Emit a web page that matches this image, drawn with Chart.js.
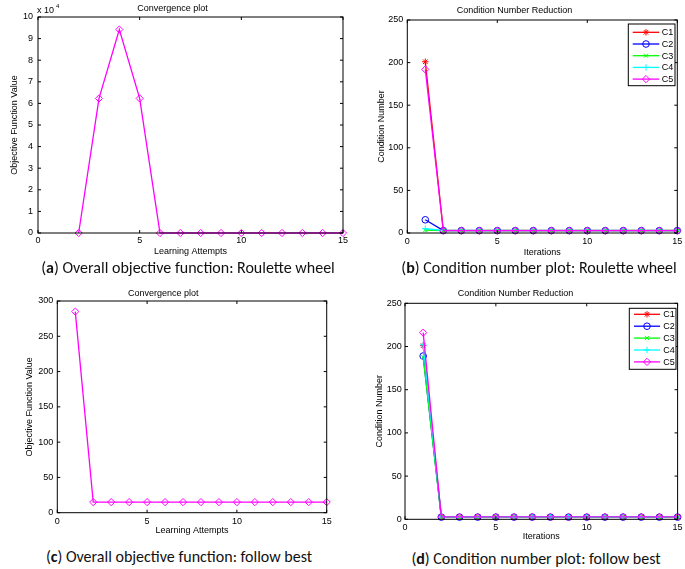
<!DOCTYPE html>
<html lang="en">
<head>
<meta charset="UTF-8">
<title>Convergence and condition number plots</title>
<script src="https://cdn.jsdelivr.net/npm/chart.js"></script>
<style>
  body { margin: 0; background: #fff; width: 685px; height: 569px; position: relative; overflow: hidden; }
  .panel { position: absolute; }
  .caption { position: absolute; transform: translateX(-50%); white-space: nowrap; line-height: 18px;
             font-family: Calibri, Carlito, Lato, sans-serif; font-size: 16px; color: #111; }
</style>
</head>
<body>
<div class="panel" style="left:0;top:0;width:350px;height:260px"><canvas id="chartA"></canvas></div>
<div class="panel" style="left:350px;top:0;width:335px;height:260px"><canvas id="chartB"></canvas></div>
<div class="panel" style="left:0;top:280px;width:350px;height:265px"><canvas id="chartC"></canvas></div>
<div class="panel" style="left:350px;top:280px;width:335px;height:265px"><canvas id="chartD"></canvas></div>

<div class="caption" style="left:188px;top:259px">(<b>a</b>) Overall objective function: Roulette wheel</div>
<div class="caption" style="left:539px;top:259px">(<b>b</b>) Condition number plot: Roulette wheel</div>
<div class="caption" style="left:179px;top:548px">(<b>c</b>) Overall objective function: follow best</div>
<div class="caption" style="left:536px;top:550px">(<b>d</b>) Condition number plot: follow best</div>

<script>
// values
const attemptsRoulette = [2, 3, 4, 5, 6, 7, 8, 9, 10, 11, 12, 13, 14, 15];
const objectiveRoulette = [0, 62300, 94200, 62300, 0, 0, 0, 0, 0, 0, 0, 0, 0, 0];

const attemptsBest = [1, 2, 3, 4, 5, 6, 7, 8, 9, 10, 11, 12, 13, 14, 15];
const objectiveBest = [285, 15, 15, 15, 15, 15, 15, 15, 15, 15, 15, 15, 15, 15, 15];

const iterations = [1, 2, 3, 4, 5, 6, 7, 8, 9, 10, 11, 12, 13, 14, 15];
const seriesNames = ['C1', 'C2', 'C3', 'C4', 'C5'];

const rouletteC1 = [201, 3, 3, 3, 3, 3, 3, 3, 3, 3, 3, 3, 3, 3, 3];
const rouletteC2 = [15.5, 2.8, 2.8, 2.8, 2.8, 2.8, 2.8, 2.8, 2.8, 2.8, 2.8, 2.8, 2.8, 2.8, 2.8];
const rouletteC3 = [3.5, 2.9, 2.9, 2.9, 2.9, 2.9, 2.9, 2.9, 2.9, 2.9, 2.9, 2.9, 2.9, 2.9, 2.9];
const rouletteC4 = [5, 3.1, 3.1, 3.1, 3.1, 3.1, 3.1, 3.1, 3.1, 3.1, 3.1, 3.1, 3.1, 3.1, 3.1];
const rouletteC5 = [192, 2.7, 2.7, 2.7, 2.7, 2.7, 2.7, 2.7, 2.7, 2.7, 2.7, 2.7, 2.7, 2.7, 2.7];

const bestC1 = [201, 2.6, 2.6, 2.6, 2.6, 2.6, 2.6, 2.6, 2.6, 2.6, 2.6, 2.6, 2.6, 2.6, 2.6];
const bestC2 = [189, 2.5, 2.5, 2.5, 2.5, 2.5, 2.5, 2.5, 2.5, 2.5, 2.5, 2.5, 2.5, 2.5, 2.5];
const bestC3 = [188, 2.4, 2.4, 2.4, 2.4, 2.4, 2.4, 2.4, 2.4, 2.4, 2.4, 2.4, 2.4, 2.4, 2.4];
const bestC4 = [202, 2.7, 2.7, 2.7, 2.7, 2.7, 2.7, 2.7, 2.7, 2.7, 2.7, 2.7, 2.7, 2.7, 2.7];
const bestC5 = [216, 2.8, 2.8, 2.8, 2.8, 2.8, 2.8, 2.8, 2.8, 2.8, 2.8, 2.8, 2.8, 2.8, 2.8];

const FONT = 'Arial, "Liberation Sans", Helvetica, sans-serif';
const colors = ['#ff0000', '#0000ff', '#00ff00', '#00ffff', '#ff00ff'];
const markers = ['star', 'circle', 'crossRot', 'cross', 'rectRot'];
const markerSize = [3.2, 3.3, 2.8, 3.2, 3.6];

function points(xs, ys) {
  return xs.map((x, i) => ({ x: x, y: ys[i] }));
}

function series(xs, ys, i) {
  return {
    label: seriesNames[i],
    data: points(xs, ys),
    borderColor: colors[i],
    borderWidth: 1.3,
    pointStyle: markers[i],
    pointRadius: markerSize[i],
    pointBorderColor: colors[i],
    pointBackgroundColor: 'rgba(0,0,0,0)',
    pointBorderWidth: 1,
    order: 4 - i,
    clip: false
  };
}

// box, inward ticks, exponent and matlab style legend
const matlabFrame = {
  id: 'matlabFrame',
  afterDatasetsDraw(chart, args, opts) {
    const { ctx, chartArea: a, scales: { x, y } } = chart;
    ctx.save();
    ctx.strokeStyle = '#000';
    ctx.lineWidth = 1;
    ctx.strokeRect(a.left, a.top, a.right - a.left, a.bottom - a.top);
    const t = 3;
    ctx.beginPath();
    x.ticks.forEach(tk => {
      const px = x.getPixelForValue(tk.value);
      ctx.moveTo(px, a.bottom); ctx.lineTo(px, a.bottom - t);
      ctx.moveTo(px, a.top); ctx.lineTo(px, a.top + t);
    });
    y.ticks.forEach(tk => {
      const py = y.getPixelForValue(tk.value);
      ctx.moveTo(a.left, py); ctx.lineTo(a.left + t, py);
      ctx.moveTo(a.right, py); ctx.lineTo(a.right - t, py);
    });
    ctx.stroke();

    ctx.fillStyle = '#000';
    if (opts.exponent) {
      ctx.font = '9px ' + FONT;
      ctx.textBaseline = 'alphabetic';
      ctx.textAlign = 'left';
      ctx.fillText('x 10', a.left - 1, a.top - 4);
      ctx.font = '6px ' + FONT;
      ctx.fillText(opts.exponent, a.left + 18, a.top - 9);
    }

    const lg = opts.legend;
    if (lg) {
      ctx.fillStyle = '#fff';
      ctx.fillRect(lg.x, lg.y, lg.w, lg.h);
      ctx.strokeStyle = '#000';
      ctx.strokeRect(lg.x, lg.y, lg.w, lg.h);
      ctx.font = '9px ' + FONT;
      ctx.textBaseline = 'middle';
      ctx.textAlign = 'left';
      chart.data.datasets.forEach((ds, i) => {
        const ry = lg.y + lg.row0 + i * lg.step;
        ctx.strokeStyle = ds.borderColor;
        ctx.lineWidth = 1.3;
        ctx.beginPath();
        ctx.moveTo(lg.x + lg.line0, ry);
        ctx.lineTo(lg.x + lg.line1, ry);
        ctx.stroke();
        ctx.lineWidth = 1;
        ctx.fillStyle = 'rgba(0,0,0,0)';
        Chart.helpers.drawPoint(ctx, { pointStyle: ds.pointStyle, radius: ds.pointRadius, borderWidth: 1, rotation: 0 },
          lg.x + (lg.line0 + lg.line1) / 2, ry);
        ctx.fillStyle = '#000';
        ctx.fillText(ds.label, lg.x + lg.textX, ry + 0.5);
      });
    }
    ctx.restore();
  }
};

function makeChart(id, cfg) {
  const font = { family: FONT, size: 9 };
  return new Chart(document.getElementById(id), {
    type: 'line',
    data: { datasets: cfg.datasets },
    options: {
      responsive: true,
      maintainAspectRatio: false,
      animation: false,
      layout: { padding: { left: 0, right: cfg.padRight, top: 0, bottom: 0 } },
      plugins: {
        legend: { display: false },
        tooltip: { enabled: false },
        title: { display: true, text: cfg.title, color: '#000', font: { family: FONT, size: 9, weight: 'normal' }, padding: cfg.titlePad },
        matlabFrame: { exponent: cfg.exponent, legend: cfg.legend }
      },
      scales: {
        x: {
          type: 'linear', min: 0, max: 15,
          ticks: { stepSize: 5, padding: cfg.xTickPad, color: '#000', font: font, maxRotation: 0 },
          grid: { display: false, drawTicks: false },
          border: { display: false },
          title: { display: true, text: cfg.xTitle, color: '#000', font: font, padding: { top: 0, bottom: cfg.xTitlePad } },
          afterFit: s => { s.height = cfg.xHeight; }
        },
        y: {
          min: 0, max: cfg.yMax,
          ticks: { stepSize: cfg.yStep, padding: cfg.yTickPad, color: '#000', font: font, callback: cfg.yFormat || (v => v) },
          grid: { display: false, drawTicks: false },
          border: { display: false },
          title: { display: true, text: cfg.yTitle, color: '#000', font: font, padding: { top: cfg.yTitlePad, bottom: 0 } },
          afterFit: s => { s.width = cfg.yWidth; }
        }
      }
    },
    plugins: [matlabFrame]
  });
}

const diamond = (xs, ys) => [{
  label: 'objective', data: points(xs, ys), borderColor: '#ff00ff', borderWidth: 1.3,
  pointStyle: 'rectRot', pointRadius: 3.6, pointBorderColor: '#ff00ff',
  pointBackgroundColor: 'rgba(0,0,0,0)', pointBorderWidth: 1, clip: false
}];

makeChart('chartA', {
  datasets: diamond(attemptsRoulette, objectiveRoulette),
  title: 'Convergence plot', titlePad: { top: 3.6, bottom: 2.6 },
  xTitle: 'Learning Attempts', yTitle: 'Objective Function Value',
  yMax: 100000, yStep: 10000, yFormat: v => v / 10000, exponent: '4',
  padRight: 5, yWidth: 38, xHeight: 27, xTickPad: 2, xTitlePad: 2.9, yTickPad: 5, yTitlePad: 9.6
});

makeChart('chartB', {
  datasets: [rouletteC1, rouletteC2, rouletteC3, rouletteC4, rouletteC5].map((ys, i) => series(iterations, ys, i)),
  title: 'Condition Number Reduction', titlePad: { top: 5.6, bottom: 3.6 },
  xTitle: 'Iterations', yTitle: 'Condition Number',
  yMax: 250, yStep: 50,
  padRight: 6, yWidth: 57.3, xHeight: 27, xTickPad: 2.7, xTitlePad: 2.3, yTickPad: 4, yTitlePad: 26.3,
  legend: { x: 278.3, y: 24, w: 46.7, h: 61.7, row0: 8.3, step: 11.7, line0: 4.4, line1: 31, textX: 33.4 }
});

makeChart('chartC', {
  datasets: diamond(attemptsBest, objectiveBest),
  title: 'Convergence plot', titlePad: { top: 8.6, bottom: 1.6 },
  xTitle: 'Learning Attempts', yTitle: 'Objective Function Value',
  yMax: 300, yStep: 50,
  padRight: 23.3, yWidth: 57.3, xHeight: 32.3, xTickPad: 3, xTitlePad: 8.9, yTickPad: 4, yTitlePad: 24.6
});

makeChart('chartD', {
  datasets: [bestC1, bestC2, bestC3, bestC4, bestC5].map((ys, i) => series(iterations, ys, i)),
  title: 'Condition Number Reduction', titlePad: { top: 8.6, bottom: 3.9 },
  xTitle: 'Iterations', yTitle: 'Condition Number',
  yMax: 250, yStep: 50,
  padRight: 4, yWidth: 55, xHeight: 25.7, xTickPad: 2.4, xTitlePad: 2.6, yTickPad: 3.3, yTitlePad: 23.9,
  legend: { x: 279.3, y: 28.3, w: 46.7, h: 61, row0: 6, step: 11.9, line0: 4.7, line1: 30.7, textX: 34 }
});
</script>
</body>
</html>
